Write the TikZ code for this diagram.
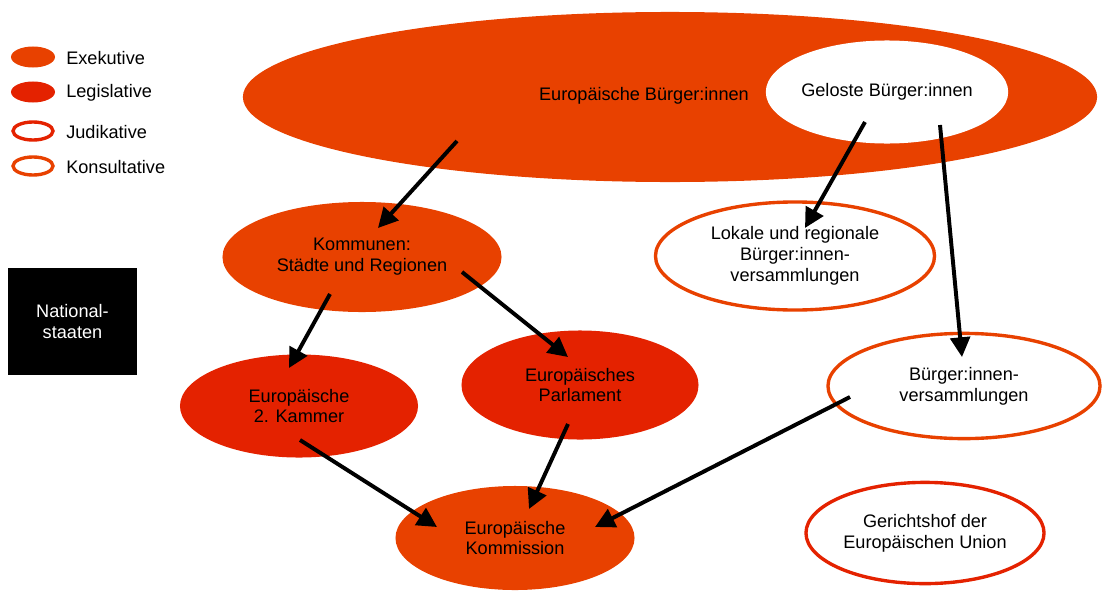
\documentclass[tikz,border=0pt]{standalone}
\usepackage{fontspec}
\setmainfont{Liberation Sans}
\usetikzlibrary{shapes.geometric,arrows.meta}

\begin{document}
\begin{tikzpicture}[x=0.025cm, y=-0.025cm]

    % Colors of the four powers
    \definecolor{exekol}{RGB}{232,65,0}
    \definecolor{legkol}{RGB}{228,34,0}

    % Common styles
    \tikzset{
        organ/.style={ellipse, inner sep=0pt, align=center,
            font=\fontsize{12.9}{14.9}\selectfont},
        exek/.style={organ, fill=exekol},
        legis/.style={organ, fill=legkol},
        judik/.style={organ, draw=legkol, line width=2.4pt, fill=white},
        konsult/.style={organ, draw=exekol, line width=2.4pt, fill=white},
        legtext/.style={anchor=west, inner sep=0pt,
            font=\fontsize{12.9}{14.9}\selectfont},
        pfeil/.style={line width=2.8pt, -{Triangle[length=14pt, width=14pt]}}
    }

    \useasboundingbox (0,0) rectangle (1103,592);

    % ======================= Legend =======================
    \node[exek, minimum width=1.1cm, minimum height=0.525cm] (legExek) at (33,57) {};
    \node[legis, minimum width=1.1cm, minimum height=0.525cm] (legLegis) at (33,92) {};
    \node[judik, minimum width=1.0cm, minimum height=0.45cm] (legJudik) at (33,131) {};
    \node[konsult, minimum width=1.0cm, minimum height=0.45cm] (legKonsult) at (33,166) {};
    \node[legtext] (legExekText) at (66,58) {Exekutive};
    \node[legtext] (legLegisText) at (66,93) {Legislative};
    \node[legtext] (legJudikText) at (66,132) {Judikative};
    \node[legtext] (legKonsultText) at (66,167) {Konsultative};

    % ================== Nationalstaaten box ==================
    \node[fill=black, text=white, align=center, minimum width=3.225cm,
        minimum height=2.675cm, font=\fontsize{12.9}{14.9}\selectfont]
        (national) at (72.5,321.5) {National-\\staaten};

    % ===================== Citizens =====================
    \node[exek, minimum width=21.35cm, minimum height=4.25cm] (buerger) at (670,97) {};
    \node[organ, fill=white, minimum width=5.8cm, minimum height=2.575cm]
        (geloste) at (887,92) {Geloste Bürger:innen};
    \node[organ] (buergerText) at (644,96) {Europäische Bürger:innen};

    % ===================== Institutions =====================
    \node[exek, minimum width=6.975cm, minimum height=2.75cm]
        (kommunen) at (362,257) {Kommunen:\\Städte und Regionen};
    \node[konsult, minimum width=6.975cm, minimum height=2.7cm]
        (lokale) at (795,256) {Lokale und regionale\\Bürger:innen-\\versammlungen};
    \node[konsult, minimum width=6.8cm, minimum height=2.63cm]
        (versamml) at (964,386) {Bürger:innen-\\versammlungen};
    \node[legis, minimum width=5.95cm, minimum height=2.575cm]
        (kammer) at (299,406) {Europäische\\2. Kammer};
    \node[legis, minimum width=5.925cm, minimum height=2.725cm]
        (parlament) at (580,385) {Europäisches\\Parlament};
    \node[exek, minimum width=5.975cm, minimum height=2.6cm]
        (kommission) at (515,538) {Europäische\\Kommission};
    \node[judik, minimum width=5.95cm, minimum height=2.53cm]
        (gericht) at (925,533) {Gerichtshof der\\Europäischen Union};

    % ================ Arrow ends inside the ellipses ================
    \coordinate (buergerA) at (457,141);
    \coordinate (kommunenE) at (378,228);
    \coordinate (gelosteA) at (865,122);
    \coordinate (lokaleE) at (805,228);
    \coordinate (gelosteB) at (940,125);
    \coordinate (versammlE) at (962,357);
    \coordinate (kommunenA) at (330,294);
    \coordinate (kammerE) at (289,368);
    \coordinate (kommunenB) at (462,272);
    \coordinate (parlamentE) at (568,357);
    \coordinate (kammerA) at (300,440);
    \coordinate (kommissionE) at (437,527);
    \coordinate (parlamentA) at (568,424);
    \coordinate (kommissionF) at (529,509);
    \coordinate (versammlA) at (850,397);
    \coordinate (kommissionG) at (595,527);

    % ======================= Arrows =======================
    \draw[pfeil] (buergerA) -- (kommunenE);
    \draw[pfeil] (gelosteA) -- (lokaleE);
    \draw[pfeil] (gelosteB) -- (versammlE);
    \draw[pfeil] (kommunenA) -- (kammerE);
    \draw[pfeil] (kommunenB) -- (parlamentE);
    \draw[pfeil] (kammerA) -- (kommissionE);
    \draw[pfeil] (parlamentA) -- (kommissionF);
    \draw[pfeil] (versammlA) -- (kommissionG);

\end{tikzpicture}
\end{document}
